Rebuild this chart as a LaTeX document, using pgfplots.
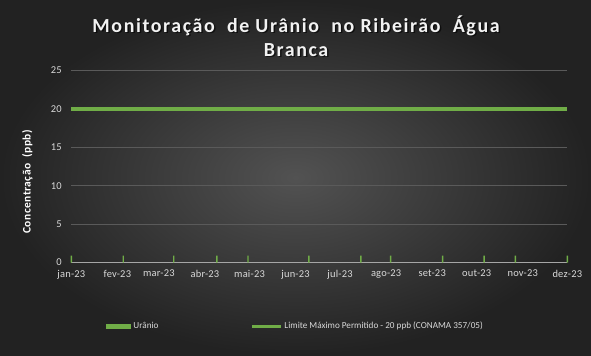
\documentclass[border=0pt]{standalone}
\usepackage{pgfplots}
\pgfplotsset{compat=1.18}
\usepackage{fontspec}
\setmainfont{Carlito}
\definecolor{xgreen}{HTML}{70AD47}
\definecolor{tick}{HTML}{D9D9D9}
\definecolor{gridc}{HTML}{5A5A5A}
\begin{document}
\begin{tikzpicture}[x=1bp,y=1bp]
\shade[inner color={rgb,255:red,82;green,82;blue,82}, outer color={rgb,255:red,34;green,34;blue,34}] (0,0) rectangle (591,355);
\path[use as bounding box] (0,0) rectangle (591,355);
% title
\begin{scope}
\node[text=black, opacity=0.6, align=center, font=\fontsize{20}{24}\selectfont\bfseries\addfontfeatures{LetterSpace=8}] at (297.5,317.5) {Monitoração\ \ de Urânio\ \ no Ribeirão\ \ Água\\Branca};
\node[text={rgb,255:red,242;green,242;blue,242}, align=center, font=\fontsize{20}{24}\selectfont\bfseries\addfontfeatures{LetterSpace=8}] at (296,319) {Monitoração\ \ de Urânio\ \ no Ribeirão\ \ Água\\Branca};
\end{scope}
\begin{axis}[
  at={(71.3bp,92.5bp)}, anchor=south west,
  scale only axis, width=496bp, height=192bp,
  xmin=0, xmax=334, ymin=0, ymax=25,
  axis line style={draw=none},
  axis x line*=bottom,
  x axis line style={draw={rgb,255:red,166;green,166;blue,166}, line width=1pt},
  axis y line*=left,
  y axis line style={draw=none},
  ytick={0,5,10,15,20,25},
  ymajorgrids, grid style={draw=gridc, line width=0.5pt},
  xtick={0,31,59,90,120,151,181,212,243,273,304,334},
  xticklabels={jan-23,fev-23,mar-23,abr-23,mai-23,jun-23,jul-23,ago-23,set-23,out-23,nov-23,dez-23},
  major tick length=0pt,
  tick label style={text=tick, font=\fontsize{10.5}{12}\selectfont\addfontfeatures{LetterSpace=2}},
  /pgf/number format/assume math mode=true,
  xticklabel style={yshift=-4bp},
  yticklabel style={xshift=-6bp},
  ylabel={Concentração\ \ (ppb)},
  ylabel style={at={(axis description cs:-0.0887,0.42)}, anchor=center, rotate=0, text=white, font=\fontsize{11.5}{13}\selectfont\bfseries\addfontfeatures{LetterSpace=4}},
  legend style={at={(axis description cs:0.0705,-0.331)}, anchor=west, draw=none, fill=none, text=tick, font=\fontsize{9.2}{11}\selectfont, legend columns=2, inner sep=0pt, /tikz/every even column/.append style={column sep=90bp}},
  legend cell align=left,
  clip=false,
]
\addplot[ybar, bar width=1.4bp, fill=xgreen, draw=none, legend image code/.code={\fill[xgreen] (0bp,-2.5bp) rectangle (25bp,2.5bp);}] coordinates {
(0,0.9) (35,0.9) (69,0.9) (98,0.9) (119,0.9) (160,0.9) (195,0.9) (215,0.9) (250,0.9) (278,0.9) (299,0.9) (334,0.9)};
\addlegendentry{Urânio}
\addplot[xgreen, line width=3.2bp, legend image code/.code={\draw[xgreen, line width=3bp] (0bp,0bp) -- (29bp,0bp);}] coordinates {
(0,20) (35,20) (69,20) (98,20) (119,20) (160,20) (195,20) (215,20) (250,20) (278,20) (299,20) (334,20)};
\addlegendentry{Limite Máximo Permitido - 20 ppb (CONAMA 357/05)}
\end{axis}
\end{tikzpicture}
\end{document}
